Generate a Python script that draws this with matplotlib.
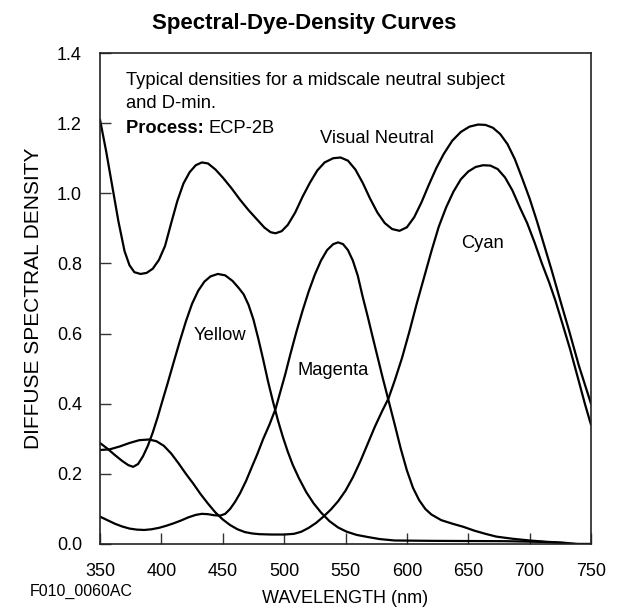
import matplotlib
matplotlib.use("Agg")
import matplotlib.pyplot as plt
from matplotlib.transforms import offset_copy

plt.rcParams['font.family'] = ['Liberation Sans', 'DejaVu Sans']

# ---- data ----
yellow_wl = [350, 356, 362, 368, 373, 377, 381, 385, 389, 393, 397, 401, 405, 410, 415, 420, 425,
             430, 435, 440, 446, 452, 458, 463, 467, 471, 475, 479, 483, 487, 491, 495, 499, 503,
             507, 512, 518, 524, 530, 537, 544, 551, 559, 568, 578, 590, 620, 680, 710, 722, 732,
             740, 750]
yellow_d = [0.288, 0.272, 0.254, 0.237, 0.225, 0.220, 0.228, 0.250, 0.280, 0.318, 0.362, 0.410,
            0.457, 0.518, 0.578, 0.635, 0.685, 0.722, 0.748, 0.763, 0.770, 0.766, 0.750, 0.730,
            0.712, 0.682, 0.640, 0.585, 0.525, 0.462, 0.405, 0.352, 0.305, 0.263, 0.226, 0.188,
            0.148, 0.116, 0.090, 0.065, 0.047, 0.035, 0.026, 0.020, 0.014, 0.010, 0.009, 0.008,
            0.006, 0.004, 0.001, 0.000, 0.000]

magenta_wl = [350, 356, 362, 368, 374, 380, 386, 392, 398, 404, 410, 416, 422, 428, 433, 438, 443,
              448, 452, 456, 460, 464, 469, 474, 478, 483, 488, 493, 497, 501, 505, 510, 515, 520,
              525, 530, 535, 540, 544, 548, 552, 556, 560, 564, 568, 572, 576, 580, 585, 590, 595,
              600, 605, 610, 615, 620, 628, 637, 646, 655, 664, 673, 686, 700, 715, 727, 738, 750]
magenta_d = [0.078, 0.068, 0.058, 0.050, 0.044, 0.041, 0.040, 0.042, 0.046, 0.052, 0.059, 0.067,
             0.076, 0.083, 0.086, 0.085, 0.082, 0.081, 0.086, 0.100, 0.120, 0.144, 0.180, 0.222,
             0.255, 0.300, 0.340, 0.385, 0.435, 0.485, 0.540, 0.605, 0.665, 0.720, 0.768, 0.808,
             0.838, 0.855, 0.860, 0.855, 0.838, 0.808, 0.765, 0.705, 0.650, 0.592, 0.535, 0.478,
             0.410, 0.342, 0.272, 0.210, 0.160, 0.125, 0.100, 0.084, 0.068, 0.058, 0.049, 0.038,
             0.029, 0.021, 0.015, 0.010, 0.006, 0.004, 0.000, 0.000]

cyan_wl = [350, 358, 366, 374, 382, 390, 396, 402, 408, 414, 420, 426, 432, 438, 444, 450, 456,
           462, 468, 474, 480, 490, 500, 508, 514, 520, 526, 532, 538, 544, 550, 556, 562, 568,
           574, 580, 585, 590, 596, 602, 608, 614, 620, 626, 632, 638, 644, 650, 656, 662, 668,
           674, 680, 686, 692, 698, 704, 710, 716, 721, 727, 733, 740, 745, 750]
cyan_d = [0.268, 0.270, 0.278, 0.288, 0.296, 0.298, 0.293, 0.280, 0.258, 0.230, 0.200, 0.172,
          0.142, 0.115, 0.090, 0.070, 0.054, 0.042, 0.034, 0.030, 0.028, 0.027, 0.027, 0.029,
          0.035, 0.046, 0.060, 0.078, 0.098, 0.122, 0.152, 0.190, 0.235, 0.285, 0.335, 0.380,
          0.415, 0.465, 0.530, 0.605, 0.685, 0.760, 0.835, 0.905, 0.960, 1.005, 1.040, 1.062,
          1.075, 1.080, 1.079, 1.069, 1.045, 1.008, 0.960, 0.915, 0.860, 0.800, 0.745, 0.694,
          0.625, 0.555, 0.465, 0.400, 0.340]

neutral_wl = [350, 355, 360, 365, 370, 374, 378, 383, 388, 393, 398, 403, 408, 413, 418, 423, 428,
              433, 438, 444, 450, 457, 464, 471, 478, 484, 489, 493, 498, 503, 509, 515, 521, 527,
              533, 540, 546, 552, 558, 564, 570, 576, 582, 588, 594, 600, 606, 612, 618, 624, 630,
              637, 644, 651, 658, 664, 670, 676, 682, 688, 694, 700, 706, 712, 718, 725, 732, 740,
              745, 750]
neutral_d = [1.210, 1.120, 1.020, 0.920, 0.835, 0.795, 0.775, 0.770, 0.773, 0.785, 0.810, 0.850,
             0.915, 0.978, 1.028, 1.060, 1.080, 1.088, 1.085, 1.068, 1.045, 1.015, 0.982, 0.952,
             0.925, 0.902, 0.889, 0.886, 0.892, 0.910, 0.945, 0.990, 1.030, 1.065, 1.088, 1.100,
             1.102, 1.093, 1.068, 1.030, 0.985, 0.945, 0.915, 0.898, 0.893, 0.903, 0.932, 0.975,
             1.025, 1.072, 1.112, 1.150, 1.175, 1.190, 1.196, 1.195, 1.187, 1.169, 1.140, 1.097,
             1.042, 0.985, 0.920, 0.850, 0.780, 0.694, 0.610, 0.510, 0.455, 0.400]

x_ticks = [350, 400, 450, 500, 550, 600, 650, 700, 750]
y_ticks = [0.0, 0.2, 0.4, 0.6, 0.8, 1.0, 1.2, 1.4]

# ---- figure ----
fig = plt.figure(figsize=(6.17, 6.12), dpi=100)
ax = fig.add_axes([100 / 617, 1 - 544 / 612, 491 / 617, 491 / 612])

for wl, d in [(yellow_wl, yellow_d), (magenta_wl, magenta_d),
              (cyan_wl, cyan_d), (neutral_wl, neutral_d)]:
    ax.plot(wl, d, color='black', lw=1.6, solid_joinstyle='round', solid_capstyle='round')

ax.set_xlim(350, 750)
ax.set_ylim(0, 1.4)
ax.set_xticks(x_ticks)
ax.set_yticks(y_ticks)
ax.set_xticklabels([str(v) for v in x_ticks])
ax.set_yticklabels([f"{v:.1f}" for v in y_ticks])
ax.tick_params(axis='both', direction='in', length=8, width=1.0, labelsize=13, color='#333333')
ax.tick_params(axis='x', pad=14)
ax.tick_params(axis='y', pad=13)
for s in ax.spines.values():
    s.set_linewidth(1.2)
    s.set_color('#222222')

ax.set_xlabel('WAVELENGTH (nm)', fontsize=13, labelpad=7)
ax.set_ylabel('DIFFUSE SPECTRAL DENSITY', fontsize=15, labelpad=10)

fig.text(304 / 617, 1 - 23 / 612, 'Spectral-Dye-Density Curves', ha='center', va='center',
         fontsize=16, fontweight='bold')
fig.text(30 / 617, 1 - 591 / 612, 'F010_0060AC', ha='left', va='center', fontsize=11.5)

# annotations
fs = 13.2
ax.text(371, 1.323, 'Typical densities for a midscale neutral subject', fontsize=fs,
        ha='left', va='center')
ax.text(371, 1.255, 'and D-min.', fontsize=fs, ha='left', va='center')
t_proc = ax.text(371, 1.184, 'Process: ', fontsize=fs, fontweight='bold', ha='left', va='center')
fig.canvas.draw()
w_px = t_proc.get_window_extent().width
ax.text(371, 1.184, 'ECP-2B', fontsize=fs, ha='left', va='center',
        transform=offset_copy(ax.transData, fig=fig, x=w_px, y=0, units='dots'))

ax.text(529, 1.157, 'Visual Neutral', fontsize=fs, ha='left', va='center')
ax.text(426, 0.595, 'Yellow', fontsize=fs, ha='left', va='center')
ax.text(511, 0.494, 'Magenta', fontsize=fs, ha='left', va='center')
ax.text(644.5, 0.858, 'Cyan', fontsize=fs, ha='left', va='center')

fig.savefig('out.png', dpi=100)
